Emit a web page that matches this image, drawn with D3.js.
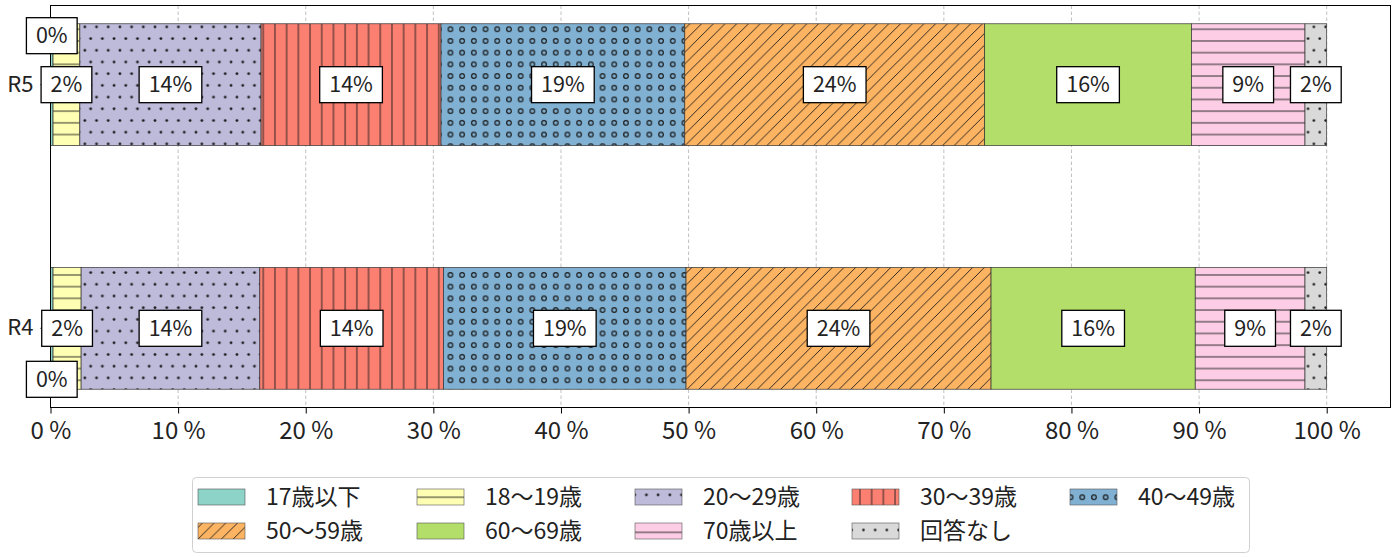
<!DOCTYPE html>
<html><head><meta charset="utf-8">
<script src="https://cdn.jsdelivr.net/npm/d3@7"></script>
<style>
body{margin:0;background:#fff;}
svg{display:block;font-family:"Noto Sans CJK JP","Noto Sans",sans-serif;}
</style></head>
<body><svg id="c" width="1397" height="557"></svg>
<script>
const categories = ["R5", "R4"];
const seriesNames = ["17歳以下", "18〜19歳", "20〜29歳", "30〜39歳", "40〜49歳", "50〜59歳", "60〜69歳", "70歳以上", "回答なし"];
const valuesR5 = [0.2, 2.1, 14.2, 14.1, 19.1, 23.5, 16.2, 8.9, 1.7];
const valuesR4 = [0.2, 2.2, 14.0, 14.4, 19.0, 23.9, 16.0, 8.6, 1.7];
const xTicks = [0, 10, 20, 30, 40, 50, 60, 70, 80, 90, 100];
const colors = ["#8dd3c7", "#ffffb3", "#bebada", "#fb8072", "#80b1d3", "#fdb462", "#b3de69", "#fccde5", "#d9d9d9"];
const hatches = ["none", "hline", "dots", "vline", "circles", "diag", "none", "hline", "sparse"];

(function(){
const valuesByCat = {R5: valuesR5, R4: valuesR4};
const svg = d3.select("#c");
const pL = 50.5, pR = 1390.5, pT = 5.5, pB = 407.5;

const x = d3.scaleLinear().domain([0, 105]).range([pL, pR]);
const y = d3.scaleBand().domain(categories).range([pT, pB]).paddingInner(0.5).paddingOuter(0.075);

// patterns
const defs = svg.append("defs");
const S = 11.7, hc = "#1a1a1a", hw = 0.9;
seriesNames.forEach((n, i) => {
  const h = hatches[i];
  if (h === "none") return;
  const id = "pat" + i;
  let pw = S, ph = S;
  if (h === "dots" || h === "sparse") ph = 2 * S;
  const p = defs.append("pattern").attr("id", id).attr("patternUnits", "userSpaceOnUse")
    .attr("width", pw).attr("height", ph);
  p.append("rect").attr("width", pw).attr("height", ph).attr("fill", colors[i]);
  if (h === "hline") {
    p.append("line").attr("x1", 0).attr("x2", pw).attr("y1", S/2).attr("y2", S/2).attr("stroke", hc).attr("stroke-width", hw);
  } else if (h === "vline") {
    p.append("line").attr("y1", 0).attr("y2", ph).attr("x1", S/2).attr("x2", S/2).attr("stroke", hc).attr("stroke-width", hw);
  } else if (h === "diag") {
    [[0, S, S, 0], [-S/2, S/2, S/2, -S/2], [S/2, 3*S/2, 3*S/2, S/2]].forEach(c =>
      p.append("line").attr("x1", c[0]).attr("y1", c[1]).attr("x2", c[2]).attr("y2", c[3]).attr("stroke", hc).attr("stroke-width", hw));
  } else if (h === "dots") {
    [[S*0.25, S*0.3], [S*0.75, S*1.3]].forEach(c =>
      p.append("circle").attr("cx", c[0]).attr("cy", c[1]).attr("r", 1.4).attr("fill", hc));
  } else if (h === "sparse") {
    [[S*0.3, S*0.3], [S*0.8, S*1.3]].forEach(c =>
      p.append("circle").attr("cx", c[0]).attr("cy", c[1]).attr("r", 1.3).attr("fill", hc));
  } else if (h === "circles") {
    p.append("circle").attr("cx", S/2).attr("cy", S/2).attr("r", 2.3).attr("fill", "none").attr("stroke", hc).attr("stroke-width", 1.2);
  }
});
const fillOf = i => hatches[i] === "none" ? colors[i] : `url(#pat${i})`;

// grid
svg.append("g").selectAll("line").data(xTicks).join("line")
  .attr("x1", d => x(d)).attr("x2", d => x(d)).attr("y1", pT).attr("y2", pB)
  .attr("stroke", "#b0b0b0").attr("stroke-width", 0.8).attr("stroke-dasharray", "3.5,2.5");

// stacked data
const rows = categories.map(c => {
  let acc = 0;
  return valuesByCat[c].map((v, i) => { const o = {cat: c, i, v, x0: acc, x1: acc + v}; acc += v; return o; });
});

const gBars = svg.append("g");
rows.forEach(r => {
  gBars.append("g").selectAll("rect").data(r).join("rect")
    .attr("x", d => x(d.x0)).attr("width", d => x(d.x1) - x(d.x0))
    .attr("y", d => y(d.cat)).attr("height", y.bandwidth())
    .attr("fill", d => fillOf(d.i)).attr("stroke", "#333").attr("stroke-width", 0.7);
});

// frame
svg.append("rect").attr("x", pL).attr("y", pT).attr("width", pR - pL).attr("height", pB - pT)
  .attr("fill", "none").attr("stroke", "#000").attr("stroke-width", 1);

// axes
const xAxis = d3.axisBottom(x).tickValues(xTicks).tickFormat(d => d + " %").tickSize(6).tickPadding(8);
const gx = svg.append("g").attr("transform", `translate(0,${pB})`).call(xAxis);
gx.select(".domain").remove();
gx.selectAll("text").attr("font-size", 24).attr("fill", "#222").attr("font-family", "Noto Sans CJK JP");
gx.selectAll("line").attr("stroke", "#000");

const yAxis = d3.axisLeft(y).tickSize(10).tickPadding(7);
const gy = svg.append("g").attr("transform", `translate(${pL},0)`).call(yAxis);
gy.select(".domain").remove();
gy.selectAll("text").attr("font-size", 22).attr("fill", "#222").attr("font-family", "Noto Sans CJK JP");
gy.selectAll("line").attr("stroke", "#000");

// value labels
const gLab = svg.append("g");
rows.forEach(r => {
  r.forEach(d => {
    const cx = x((d.x0 + d.x1) / 2);
    let cy = y(d.cat) + y.bandwidth() / 2;
    if (d.v < 1) cy += d.cat === "R5" ? -49 : 51;
    const g = gLab.append("g").attr("transform", `translate(${cx},${cy})`);
    const t = g.append("text").text(Math.round(d.v) + "%").attr("text-anchor", "middle")
      .attr("dy", "0.36em").attr("font-size", 21.5).attr("fill", "#222");
    const bb = t.node().getBBox();
    g.insert("rect", "text").attr("x", -bb.width/2 - 9.5).attr("y", -18).attr("width", bb.width + 19).attr("height", 36)
      .attr("fill", "#fff").attr("stroke", "#000").attr("stroke-width", 1.3);
  });
});

// legend
const lg = svg.append("g");
lg.append("rect").attr("x", 192.5).attr("y", 477.5).attr("width", 1057).attr("height", 75).attr("rx", 4)
  .attr("fill", "#fff").attr("stroke", "#d0d0d0").attr("stroke-width", 1);
const colX = [198, 417, 635, 852, 1070];
const rowY = [497, 531];
seriesNames.forEach((n, i) => {
  const cx = colX[i % 5], cy = rowY[Math.floor(i / 5)];
  lg.append("rect").attr("x", cx).attr("y", cy - 8).attr("width", 47).attr("height", 16)
    .attr("fill", fillOf(i)).attr("stroke", "#555").attr("stroke-width", 0.6);
  lg.append("text").attr("x", cx + 68).attr("y", cy).attr("dy", "0.36em").text(n)
    .attr("font-size", 23).attr("fill", "#222");
});
})();
</script></body></html>
